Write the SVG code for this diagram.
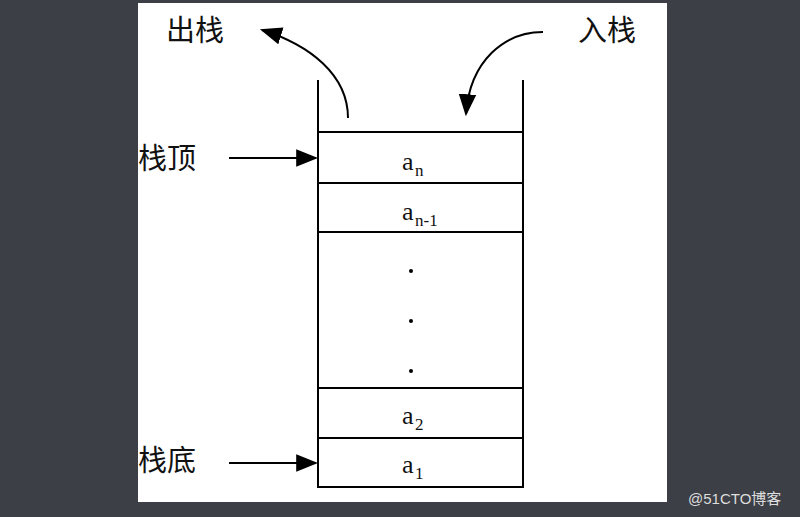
<svg xmlns="http://www.w3.org/2000/svg" width="800" height="517" viewBox="0 0 800 517">
<style>
.l{stroke:#000;stroke-width:2;fill:none}
.t{font-family:"Noto Sans CJK SC",sans-serif;font-size:29px;fill:#111}
.a{font-family:"Liberation Serif",serif;font-size:26px;fill:#111}
.s{font-family:"Liberation Serif",serif;font-size:17px;fill:#111}
</style>
<defs><marker id="m2" viewBox="0 0 10 10" refX="9" refY="5" markerWidth="22" markerHeight="22" markerUnits="userSpaceOnUse" orient="auto"><path d="M0,1L10,5L0,9z"/></marker></defs>
<rect width="800" height="517" fill="#3c3f45"/>
<rect x="138" y="3" width="529" height="499" fill="#fff"/>
<g id="stack">
<path class="l" d="M318,80V487H523V80"/>
<path class="l" d="M318,132H523M318,183H523M318,232H523M318,388H523M318,438H523"/>
<text class="a" x="402" y="170">a</text><text class="s" x="415" y="176">n</text>
<text class="a" x="402" y="220">a</text><text class="s" x="415" y="226">n-1</text>
<text class="a" x="402" y="424">a</text><text class="s" x="415" y="430">2</text>
<text class="a" x="402" y="473">a</text><text class="s" x="415" y="479">1</text>
<circle cx="411" cy="271" r="2"/><circle cx="411" cy="321" r="2"/><circle cx="411" cy="371" r="2"/>
</g>
<g id="labels">
<text class="t" x="166" y="41">出栈</text>
<text class="t" x="578" y="41">入栈</text>
<text class="t" x="138" y="169">栈顶</text>
<text class="t" x="138" y="471">栈底</text>
</g>
<g id="connectors">
<path class="l" d="M229,158H316" marker-end="url(#m2)"/>
<path class="l" d="M229,463H316" marker-end="url(#m2)"/>
<path class="l" d="M348,118C348,75 310,45 262,30" marker-end="url(#m2)"/>
<path class="l" d="M543,32C505,32 470,60 466,114" marker-end="url(#m2)"/>
</g>
<text x="688" y="504" font-family="Liberation Sans,Noto Sans CJK SC,sans-serif" font-size="15" fill="#ddd">@51CTO博客</text>
</svg>
